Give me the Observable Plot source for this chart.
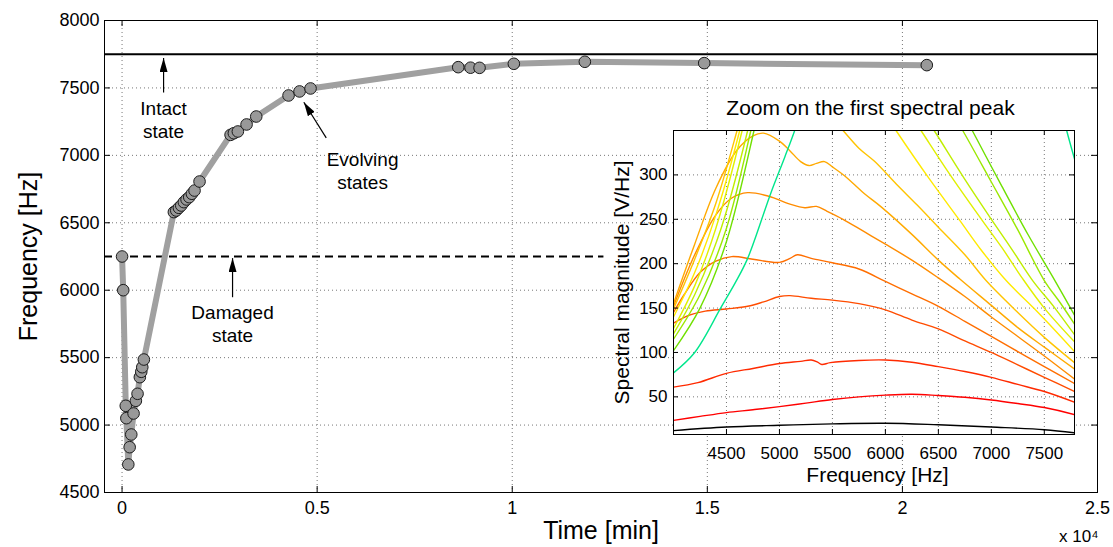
<!DOCTYPE html>
<html><head><meta charset="utf-8">
<script src="https://cdn.jsdelivr.net/npm/d3@7"></script>
<script src="https://cdn.jsdelivr.net/npm/@observablehq/plot@0.6"></script>
<style>
body{margin:0;background:#fff;}
#wrap{position:relative;width:1113px;height:547px;}
#wrap svg{position:absolute;overflow:visible;}
</style></head><body><div id="wrap"></div>
<script>
// ---------- main chart data ----------
const timeMin = [0, 30, 95, 110, 160, 195, 236, 295, 354, 397, 456, 492, 518, 559,
  1328, 1389, 1456, 1517, 1584, 1653, 1722, 1789, 1858, 1986,
  2781, 2865, 2968, 3191, 3439, 4267, 4549, 4831,
  8616, 8931, 9162, 10041, 11861, 14920, 20625];
const freqHz = [6250, 6000, 5143, 5051, 4708, 4836, 4930, 5086, 5180, 5232, 5355, 5395, 5429, 5486,
  6579, 6591, 6611, 6628, 6653, 6673, 6690, 6715, 6739, 6806,
  7152, 7164, 7177, 7229, 7288, 7444, 7474, 7496,
  7654, 7650, 7649, 7679, 7694, 7684, 7669];
const intactFreq = [7750];
const damagedLine = [{y: 6250, x1: -450, x2: 12350}];
const mainXTicks = [0, 5000, 10000, 15000, 20000, 25000];
const mainYTicks = [4500, 5000, 5500, 6000, 6500, 7000, 7500, 8000];
const annotTexts = [
  {t: 1064, f: 7270, label: "Intact\nstate"},
  {t: 2832, f: 5753, label: "Damaged\nstate"},
  {t: 6164, f: 6891, label: "Evolving\nstates"}
];
const annotArrows = [
  {t1: 1064, f1: 7466, t2: 1064, f2: 7722},
  {t1: 2832, f1: 5948, t2: 2832, f2: 6238},
  {t1: 5233, f1: 7130, t2: 4659, f2: 7394}
];

// ---------- inset data (frequency [Hz], magnitude [V/Hz]); null = off-scale gap ----------
const insetXTicks = [4500, 5000, 5500, 6000, 6500, 7000, 7500];
const insetYTicks = [50, 100, 150, 200, 250, 300];
const spec0 = [[4000,12],[4500,16],[5000,18],[5500,19.6],[6000,20.3],[6500,18.5],[7000,16],[7500,13],[7785,9.5]];
const spec1 = [[4000,23.5],[4250,28],[4500,32.3],[4750,35.5],[5000,39],[5250,43],[5500,47],[5750,50],[6000,52],[6250,53],[6500,51.5],[6750,49.5],[7000,46.5],[7250,42.5],[7500,38],[7785,30]];
const spec2 = [[4000,61],[4230,66],[4500,76.5],[4750,82],[5000,87.5],[5200,90],[5300,91.5],[5360,89],[5400,86.5],[5480,88.5],[5750,91],[6000,91.5],[6250,89],[6500,84],[6750,78.5],[7000,72],[7250,64],[7500,56],[7785,44]];
const spec3 = [[4000,133],[4150,142],[4300,146.5],[4500,149],[4700,152],[4850,157],[5000,163],[5100,164],[5300,161],[5500,159],[5750,155],[6000,148],[6250,136.5],[6500,126.5],[6750,113],[7000,100],[7250,86],[7500,72],[7785,56]];
const spec4 = [[4000,145],[4100,165],[4250,190],[4400,203],[4550,208],[4750,205],[5000,201.5],[5100,206],[5170,210],[5300,206],[5500,201],[5750,194],[6000,180],[6250,166],[6500,152],[6750,135],[7000,118],[7250,101],[7500,84],[7785,65]];
const spec5 = [[4000,152],[4200,210],[4400,255],[4550,274],[4700,280],[4900,276],[5100,267],[5240,263],[5350,264.5],[5450,259],[5600,250],[5800,236],[6000,222],[6250,204],[6500,184],[6750,163],[7000,140],[7250,118],[7500,96],[7785,70]];
const spec6 = [[4000,155],[4200,222],[4400,285],[4600,328],[4750,344],[4850,347],[5000,338],[5100,327],[5200,315],[5280,310.5],[5350,313],[5425,315],[5500,309],[5614,299],[5800,279],[5960,264],[6250,233],[6500,204],[6700,183],[7000,153],[7250,128],[7500,106],[7785,81.5]];
const spec7 = [[4000,149],[4200,205],[4400,268],[4600,350],[4700,395],null,[5500,363],[5600,350],[5750,330],[5900,315],[6100,290],[6300,266],[6500,241],[6750,210],[6950,181],[7250,145],[7500,117],[7785,88.5]];
const spec8 = [[4000,140],[4200,190],[4400,255],[4625,350],[4720,400],null,[6000,368],[6100,350],[6400,298],[6700,249],[6900,216],[7140,181],[7400,150],[7600,125],[7785,101]];
const spec9 = [[4000,127],[4200,175],[4400,240],[4648,350],[4740,400],null,[6236,368],[6336,350],[6600,302],[6900,251],[7100,218],[7290,184],[7500,150],[7785,112]];
const spec10 = [[4000,121],[4200,165],[4450,240],[4700,350],[4790,400],null,[6360,368],[6460,350],[6750,295],[7000,250],[7200,215],[7390,181],[7600,150],[7785,120]];
const spec11 = [[4000,115],[4250,165],[4500,240],[4730,350],[4820,400],null,[6630,370],[6730,350],[7000,292],[7250,238],[7500,181],[7650,156],[7785,132]];
const spec12 = [[4000,102],[4250,150],[4500,225],[4760,350],[4850,400],null,[6720,372],[6820,350],[7100,287],[7350,232],[7600,181],[7785,142]];
const spec13 = [[4000,77],[4200,100],[4450,151],[4590,180],[4700,206],[4920,280],[5050,320],[5144,350],[5250,390],null,[7650,380],[7711,350],[7785,318]];
const specColors = ["#000000","#ff0000","#ff2a00","#ff4c00","#ff6e00","#ff8c00","#ffaa00","#ffc400","#ffea00","#e0f000","#c0ee00","#9be800","#70e000","#00e68c"];

// ---------- build ----------
const FONT = "'Liberation Sans', Arial, Helvetica, sans-serif";
const points = timeMin.map((t, i) => ({t, f: freqHz[i]}));
const W = 1113, H = 547, mL = 104, mT = 20, mR = 16, mB = 55;
const fw = W - mL - mR, fh = H - mT - mB;
const grid = {stroke: "#777", strokeWidth: 1, strokeDasharray: "1,3"};

const main = Plot.plot({
  width: W, height: H, marginLeft: mL, marginTop: mT, marginRight: mR, marginBottom: mB,
  style: {fontFamily: FONT, color: "black", background: "white"},
  x: {domain: [-450, 25000]},
  y: {domain: [4500, 8000]},
  marks: [
    Plot.ruleX(mainXTicks, {x: d => d, ...grid}),
    Plot.ruleY(mainYTicks, {y: d => d, ...grid}),
    Plot.ruleY(intactFreq, {y: d => d, stroke: "black", strokeWidth: 2}),
    Plot.ruleY(damagedLine, {y: "y", x1: "x1", x2: "x2", stroke: "black", strokeWidth: 2, strokeDasharray: "8,5"}),
    Plot.line(points, {x: "t", y: "f", stroke: "#a0a0a0", strokeWidth: 6}),
    Plot.dot(points, {x: "t", y: "f", r: 5.8, fill: "#999999", stroke: "#1a1a1a", strokeWidth: 1}),
    Plot.link(annotArrows, {x1: "t1", y1: "f1", x2: "t2", y2: "f2", stroke: "black", strokeWidth: 1.2}),
    Plot.text(annotTexts, {x: "t", y: "f", text: "label", fontSize: 19, lineHeight: 1.2, lineAnchor: "middle", fill: "black"}),
    Plot.frame({stroke: "black"}),
    Plot.tickX(mainXTicks, {x: d => d, insetTop: fh - 6, stroke: "black"}),
    Plot.tickX(mainXTicks, {x: d => d, insetBottom: fh - 6, stroke: "black"}),
    Plot.tickY(mainYTicks, {y: d => d, insetRight: fw - 6, stroke: "black"}),
    Plot.tickY(mainYTicks, {y: d => d, insetLeft: fw - 6, stroke: "black"}),
    Plot.axisX({ticks: mainXTicks, tickSize: 0, tickPadding: 9, tickFormat: d => String(d / 1e4), fontSize: 18, label: null}),
    Plot.axisY({ticks: mainYTicks, tickSize: 0, tickPadding: 5, tickFormat: d3.format("d"), fontSize: 18, label: null}),
    Plot.text(["Time [min]"], {text: d => d, frameAnchor: "bottom", dy: 38, fontSize: 25, textAnchor: "middle", lineAnchor: "middle"}),
    Plot.text(["Frequency [Hz]"], {text: d => d, frameAnchor: "left", dx: -76, rotate: -90, fontSize: 25, textAnchor: "middle", lineAnchor: "middle"}),
    Plot.text(["x 10\u2074"], {text: d => d, frameAnchor: "bottom-right", dx: 1, dy: 44, fontSize: 17, textAnchor: "end", lineAnchor: "middle"})
  ]
});
main.style.left = "0px"; main.style.top = "0px";

// filled arrowheads
const NS = "http://www.w3.org/2000/svg";
const defs = document.createElementNS(NS, "defs");
const marker = document.createElementNS(NS, "marker");
marker.setAttribute("id", "ahead");
marker.setAttribute("viewBox", "0 0 14 8");
marker.setAttribute("refX", "14"); marker.setAttribute("refY", "4");
marker.setAttribute("markerWidth", "14"); marker.setAttribute("markerHeight", "8");
marker.setAttribute("markerUnits", "userSpaceOnUse"); marker.setAttribute("orient", "auto");
const mp = document.createElementNS(NS, "path");
mp.setAttribute("d", "M0,0L14,4L0,8Z"); mp.setAttribute("fill", "black");
marker.appendChild(mp); defs.appendChild(marker);
main.insertBefore(defs, main.firstChild);
main.querySelectorAll('g[aria-label="link"] path').forEach(p => p.setAttribute("marker-end", "url(#ahead)"));

// ---------- inset ----------
const specs = [spec0, spec1, spec2, spec3, spec4, spec5, spec6, spec7, spec8, spec9, spec10, spec11, spec12, spec13];
const iW = 480, iH = 400, iL = 73, iT = 40, iR = 6, iB = 56;
const iw = iW - iL - iR, ih = iH - iT - iB;
const curveMarks = specs.map((s, k) => Plot.line(
  s.map(p => p ? {f: p[0], m: p[1]} : {f: NaN, m: NaN}),
  {x: "f", y: "m", stroke: specColors[k], strokeWidth: 1.4, curve: "catmull-rom", clip: true}));

const inset = Plot.plot({
  width: iW, height: iH, marginLeft: iL, marginTop: iT, marginRight: iR, marginBottom: iB,
  style: {fontFamily: FONT, color: "black", background: "transparent"},
  x: {domain: [4000, 7785]},
  y: {domain: [7.6, 350]},
  marks: [
    Plot.frame({fill: "white", stroke: "none"}),
    Plot.ruleX(insetXTicks, {x: d => d, ...grid}),
    Plot.ruleY(insetYTicks, {y: d => d, ...grid}),
    ...curveMarks,
    Plot.frame({stroke: "black"}),
    Plot.tickX(insetXTicks, {x: d => d, insetTop: ih - 5, stroke: "black"}),
    Plot.tickX(insetXTicks, {x: d => d, insetBottom: ih - 5, stroke: "black"}),
    Plot.tickY(insetYTicks, {y: d => d, insetRight: iw - 5, stroke: "black"}),
    Plot.tickY(insetYTicks, {y: d => d, insetLeft: iw - 5, stroke: "black"}),
    Plot.axisX({ticks: insetXTicks, tickSize: 0, tickPadding: 12, tickFormat: d3.format("d"), fontSize: 17, label: null}),
    Plot.axisY({ticks: insetYTicks, tickSize: 0, tickPadding: 6, tickFormat: d3.format("d"), fontSize: 17, label: null}),
    Plot.text(["Zoom on the first spectral peak"], {text: d => d, frameAnchor: "top", dx: -3.5, dy: -22, fontSize: 21, textAnchor: "middle", lineAnchor: "middle"}),
    Plot.text(["Frequency [Hz]"], {text: d => d, frameAnchor: "bottom", dx: 3.5, dy: 41, fontSize: 21, textAnchor: "middle", lineAnchor: "middle"}),
    Plot.text(["Spectral magnitude [V/Hz]"], {text: d => d, frameAnchor: "left", dx: -51, rotate: -90, fontSize: 21, textAnchor: "middle", lineAnchor: "middle"})
  ]
});
inset.style.left = "600px"; inset.style.top = "90px";

const wrap = document.getElementById("wrap");
wrap.appendChild(main);
wrap.appendChild(inset);
</script>
</body></html>
